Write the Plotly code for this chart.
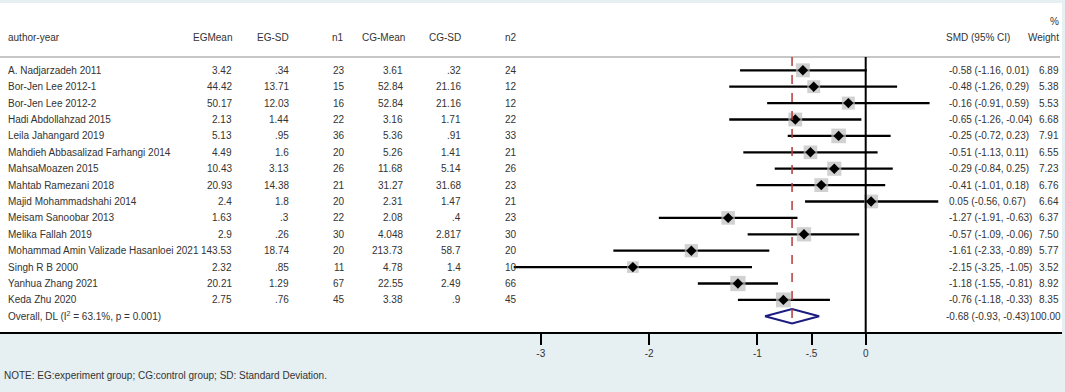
import plotly.graph_objects as go

authors = ["A. Nadjarzadeh 2011", "Bor-Jen Lee 2012-1", "Bor-Jen Lee 2012-2", "Hadi Abdollahzad 2015",
           "Leila Jahangard 2019", "Mahdieh Abbasalizad Farhangi 2014", "MahsaMoazen 2015",
           "Mahtab Ramezani 2018", "Majid Mohammadshahi 2014", "Meisam Sanoobar 2013", "Melika Fallah 2019",
           "Mohammad Amin Valizade Hasanloei 2021", "Singh R B 2000", "Yanhua Zhang 2021", "Keda Zhu 2020"]
eg_mean = ["3.42", "44.42", "50.17", "2.13", "5.13", "4.49", "10.43", "20.93", "2.4", "1.63", "2.9",
           "143.53", "2.32", "20.21", "2.75"]
eg_sd = [".34", "13.71", "12.03", "1.44", ".95", "1.6", "3.13", "14.38", "1.8", ".3", ".26", "18.74",
         ".85", "1.29", ".76"]
n1 = ["23", "15", "16", "22", "36", "20", "26", "21", "20", "22", "30", "20", "11", "67", "45"]
cg_mean = ["3.61", "52.84", "52.84", "3.16", "5.36", "5.26", "11.68", "31.27", "2.31", "2.08", "4.048",
           "213.73", "4.78", "22.55", "3.38"]
cg_sd = [".32", "21.16", "21.16", "1.71", ".91", "1.41", "5.14", "31.68", "1.47", ".4", "2.817", "58.7",
         "1.4", "2.49", ".9"]
n2 = ["24", "12", "12", "22", "33", "21", "26", "23", "21", "23", "30", "20", "10", "66", "45"]
smd = [-0.58, -0.48, -0.16, -0.65, -0.25, -0.51, -0.29, -0.41, 0.05, -1.27, -0.57, -1.61, -2.15, -1.18, -0.76]
ci_lo = [-1.16, -1.26, -0.91, -1.26, -0.72, -1.13, -0.84, -1.01, -0.56, -1.91, -1.09, -2.33, -3.25, -1.55, -1.18]
ci_hi = [0.01, 0.29, 0.59, -0.04, 0.23, 0.11, 0.25, 0.18, 0.67, -0.63, -0.06, -0.89, -1.05, -0.81, -0.33]
weight = [6.89, 5.38, 5.53, 6.68, 7.91, 6.55, 7.23, 6.76, 6.64, 6.37, 7.50, 5.77, 3.52, 8.92, 8.35]
overall_label = "Overall, DL (I<sup>2</sup> = 63.1%, p = 0.001)"
overall_est, overall_lo, overall_hi, overall_w = -0.68, -0.93, -0.43, 100.00
tick_vals = [-3, -2, -1, -0.5, 0]
tick_text = ["-3", "-2", "-1", "-.5", "0"]
headers = ["author-year", "EGMean", "EG-SD", "n1", "CG-Mean", "CG-SD", "n2", "SMD (95% CI)", "Weight"]
note = "NOTE: EG:experiment group; CG:control group; SD: Standard Deviation."

W, H = 1065, 392
PT, PB = 3, 332          # plot area top / bottom in px
PW = 1062                # plot width in px
PH = PB - PT
FONT = "Arial, Liberation Sans, sans-serif"
TXT = "#333333"
rows = list(range(len(authors)))
ov_row = len(authors)

fig = go.Figure()

# CI lines
for i in rows:
    fig.add_trace(go.Scatter(x=[ci_lo[i], ci_hi[i]], y=[i, i], mode="lines",
                             line=dict(color="black", width=2.3), hoverinfo="skip", showlegend=False))
# weight squares
fig.add_trace(go.Scatter(x=smd, y=rows, mode="markers",
                         marker=dict(symbol="square", color="#bdbdbd", size=[9.3 + 0.67 * w for w in weight],
                                     line=dict(width=0)),
                         hoverinfo="skip", showlegend=False))
# point estimates
fig.add_trace(go.Scatter(x=smd, y=rows, mode="markers",
                         marker=dict(symbol="diamond", color="black", size=8, line=dict(width=0)),
                         hoverinfo="skip", showlegend=False))
# overall diamond
hh = 0.44
fig.add_trace(go.Scatter(x=[overall_lo, overall_est, overall_hi, overall_est, overall_lo],
                         y=[ov_row, ov_row - hh, ov_row, ov_row + hh, ov_row], mode="lines",
                         line=dict(color="#1c1c80", width=2), hoverinfo="skip", showlegend=False))

shapes = []
head_y = -0.811
# header rule
shapes.append(dict(type="line", xref="paper", yref="y", x0=0, x1=1060 / PW, y0=head_y, y1=head_y,
                   line=dict(color="#b4b4b4", width=1.5)))
# zero line
shapes.append(dict(type="line", xref="x", yref="y", x0=0, x1=0, y0=head_y, y1=15.96,
                   line=dict(color="black", width=2)))
# overall dashed line
shapes.append(dict(type="line", xref="x", yref="y", x0=overall_est, x1=overall_est, y0=head_y,
                   y1=ov_row + hh, line=dict(color="#b03a3a", width=1.5, dash="dash")))

ann = []


def add_text(px, y, text, anchor):
    ann.append(dict(x=px / PW, y=y, xref="paper", yref="y", text=text, showarrow=False,
                    xanchor=anchor, yanchor="middle", font=dict(family=FONT, size=10, color=TXT)))


hy = -2.01
add_text(6, hy, headers[0], "left")
hdr_right = [234, 291, 346, 407, 463, 519]
for k, px in enumerate(hdr_right):
    add_text(px, hy, headers[k + 1], "right")
add_text(944, hy, headers[7], "left")
add_text(1061, hy, headers[8], "right")
add_text(1054, -2.99, "%", "center")

col_right = [234, 291, 347, 405, 463, 519]
for i in rows:
    add_text(6, i, authors[i], "left")
    for px, arr in zip(col_right, [eg_mean, eg_sd, n1, cg_mean, cg_sd, n2]):
        add_text(px, i, arr[i], "right")
    add_text(947, i, f"{smd[i]:.2f} ({ci_lo[i]:.2f}, {ci_hi[i]:.2f})", "left")
    add_text(1061, i, f"{weight[i]:.2f}", "right")

add_text(6, ov_row, overall_label, "left")
add_text(944, ov_row, f"{overall_est:.2f} ({overall_lo:.2f}, {overall_hi:.2f})", "left")
add_text(1063, ov_row, f"{overall_w:.2f}", "right")

ann.append(dict(x=2 / PW, y=(PB - 375) / PH, xref="paper", yref="paper", text=note,
                showarrow=False, xanchor="left", yanchor="middle", font=dict(family=FONT, size=10, color=TXT)))

# pixel mapping: x px = 865.7 + 108.3*v ; y px = 70.3 + 16.4*row
x0v = (0 - 865.7) / 108.3
x1v = (PW - 865.7) / 108.3
ytop = (PT - 70.3) / 16.4
ybot = (PB - 70.3) / 16.4

fig.update_layout(
    width=W, height=H,
    margin=dict(l=0, r=W - PW, t=PT, b=H - PB, autoexpand=False),
    paper_bgcolor="#e6eff2", plot_bgcolor="white",
    shapes=shapes, annotations=ann, showlegend=False,
    font=dict(family=FONT, size=10, color=TXT),
    xaxis=dict(range=[x0v, x1v], tickvals=tick_vals, ticktext=tick_text, showgrid=False, zeroline=False,
               showline=True, linecolor="black", linewidth=2, ticks="outside", ticklen=11, tickwidth=2,
               tickcolor="black", tickfont=dict(family=FONT, size=10, color=TXT), fixedrange=True,
               ticklabelstandoff=0, automargin=False),
    yaxis=dict(range=[ybot, ytop], visible=False, fixedrange=True),
)

fig.write_html("out.html", config={"displayModeBar": False},
               post_script="document.body.style.margin='0px';")
